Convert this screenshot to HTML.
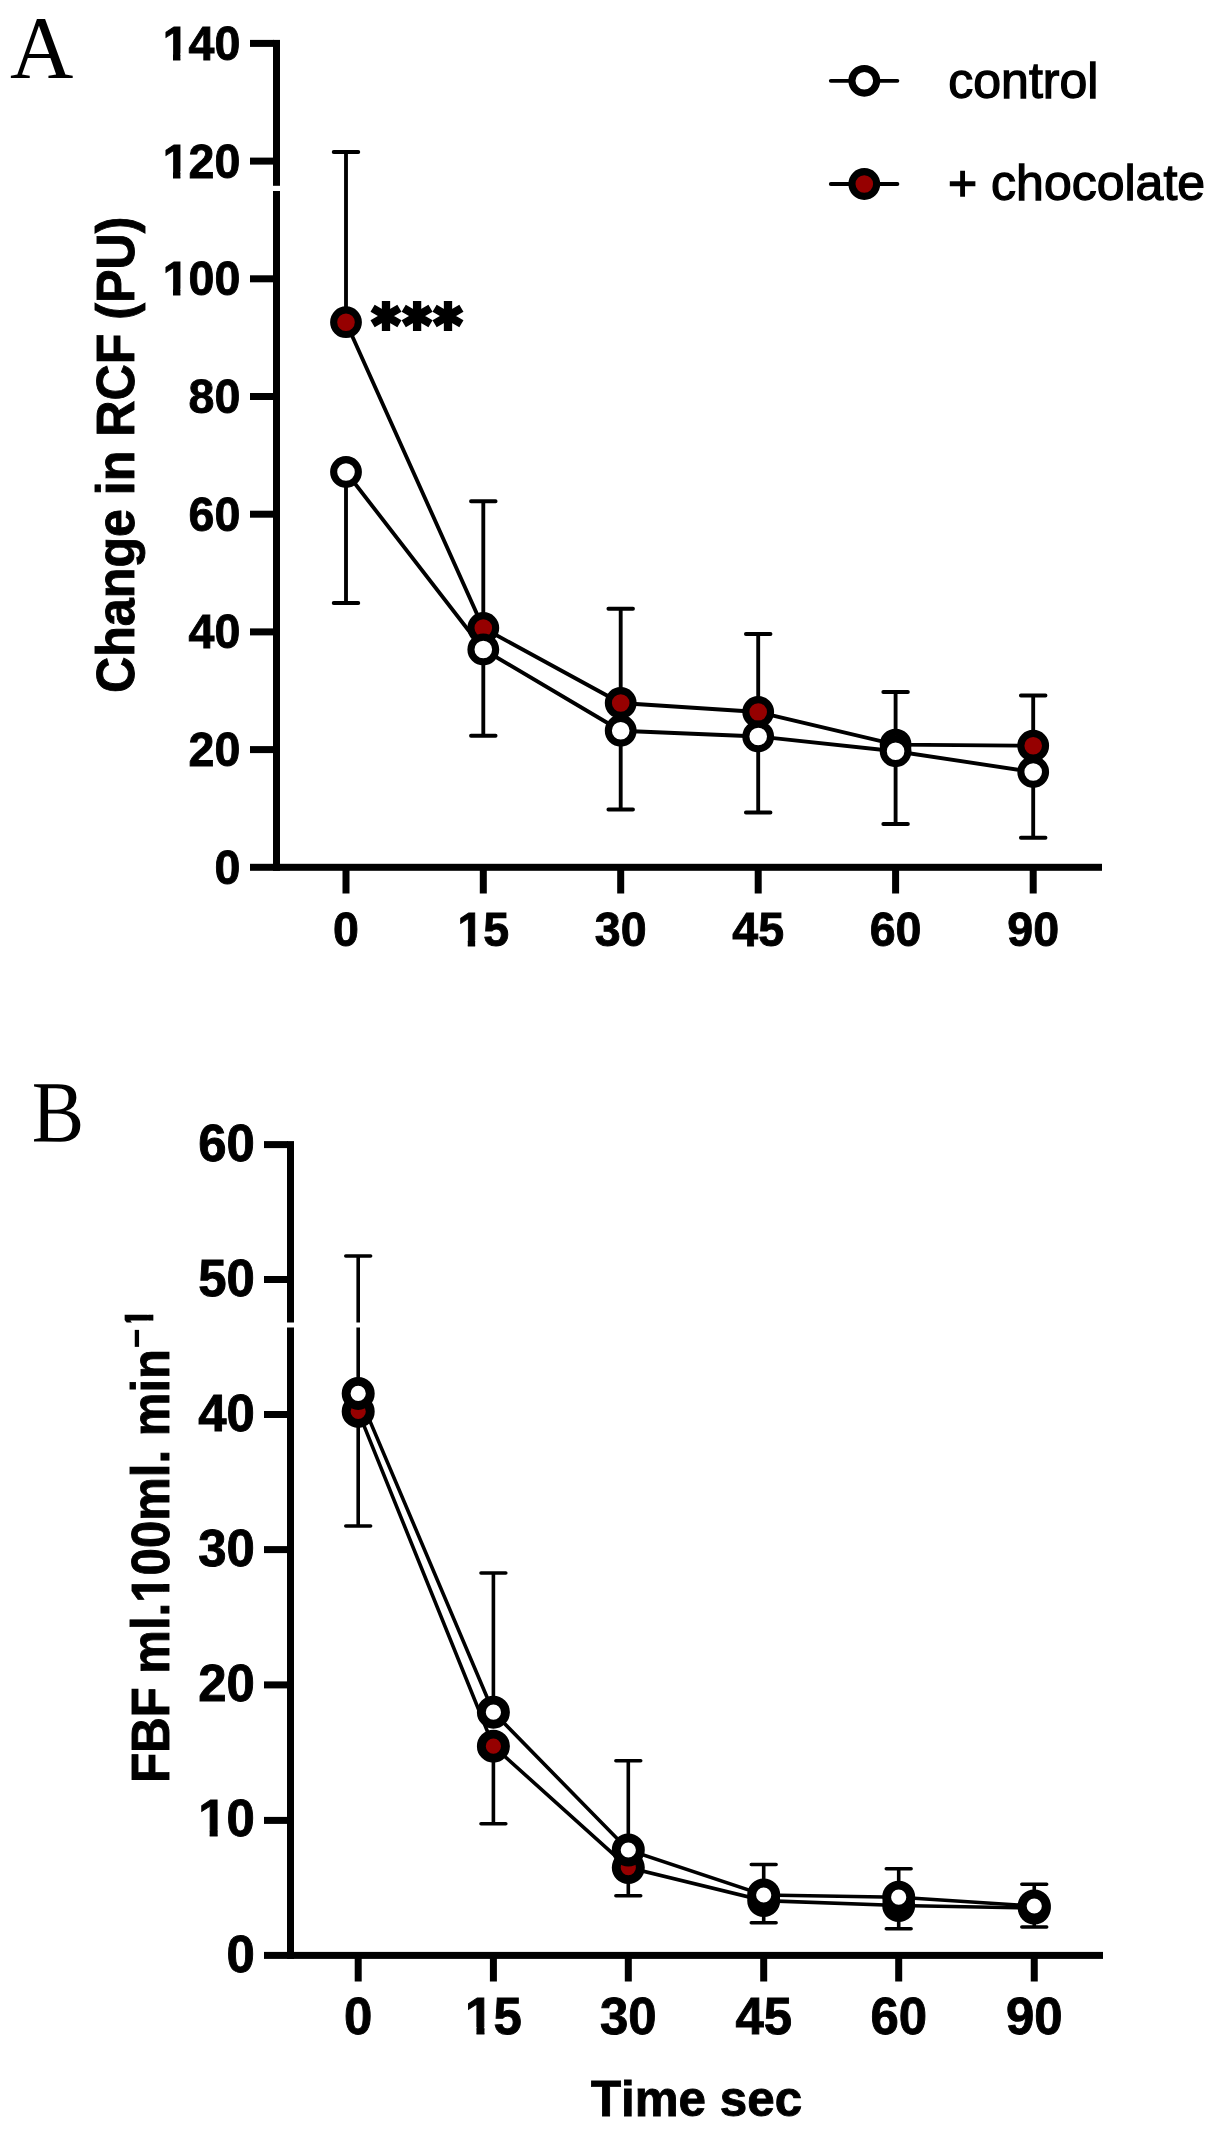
<!DOCTYPE html>
<html lang="en"><head><meta charset="utf-8"><title>Figure: change in RCF and FBF over time</title>
<style>html,body{margin:0;padding:0;background:#fff}body{position:relative;width:1219px;height:2143px}svg{display:block;position:absolute;left:0;top:0;will-change:transform}text{font-family:"Liberation Sans",sans-serif;fill:#000;font-kerning:none}.b{font-weight:bold;stroke:#000;stroke-width:.9px}.s{font-family:"Liberation Serif",serif}</style></head><body>
<svg width="1219" height="2143" viewBox="0 0 1219 2143">
<defs><clipPath id="c1"><path clip-rule="evenodd" d="M-101.59 -58.68H20V24.45H-101.59ZM-81.59 -6.36H-70.69V2.45H-81.59ZM-62.95 -6.36H-53.62V2.45H-62.95Z"/></clipPath><clipPath id="c2"><path clip-rule="evenodd" d="M-101.59 -58.68H20V24.45H-101.59ZM-81.59 -6.36H-70.69V2.45H-81.59ZM-62.95 -6.36H-53.62V2.45H-62.95Z"/></clipPath><clipPath id="c3"><path clip-rule="evenodd" d="M-101.59 -58.68H20V24.45H-101.59ZM-81.59 -6.36H-70.69V2.45H-81.59ZM-62.95 -6.36H-53.62V2.45H-62.95Z"/></clipPath><clipPath id="c4"><path clip-rule="evenodd" d="M-47.2 -58.68H47.2V24.45H-47.2ZM-27.2 -6.36H-16.3V2.45H-27.2ZM-8.56 -6.36H0.77V2.45H-8.56Z"/></clipPath><clipPath id="c5"><path clip-rule="evenodd" d="M-76.62 -61.08H20V25.45H-76.62ZM-56.62 -6.62H-45.23V2.54H-56.62ZM-37.26 -6.62H-27.5V2.54H-37.26Z"/></clipPath><clipPath id="c6"><path clip-rule="evenodd" d="M-48.31 -61.08H48.31V25.45H-48.31ZM-28.31 -6.62H-16.92V2.54H-28.31ZM-8.95 -6.62H0.81V2.54H-8.95Z"/></clipPath><clipPath id="c7"><path clip-rule="evenodd" d="M-20 -63.48H487.4V26.45H-20ZM193.96 -6.88H205.77V2.65H193.96ZM214.09 -6.88H224.22V2.65H214.09Z"/></clipPath><clipPath id="c8"><path clip-rule="evenodd" d="M-20 -48H42.25V20H-20ZM0 -5.2H8.92V2H0ZM15.24 -5.2H22.88V2H15.24Z"/></clipPath></defs>
<rect width="1219" height="2143" fill="#fff"/>
<g fill="#000">
<rect x="273" y="39.9" width="7" height="830.9"/>
<rect x="250" y="863.8" width="852" height="7"/>
<rect x="250" y="746.1" width="24" height="7"/>
<rect x="250" y="628.4" width="24" height="7"/>
<rect x="250" y="510.7" width="24" height="7"/>
<rect x="250" y="393" width="24" height="7"/>
<rect x="250" y="275.3" width="24" height="7"/>
<rect x="250" y="157.6" width="24" height="7"/>
<rect x="250" y="39.9" width="24" height="7"/>
<rect x="342.5" y="870" width="7" height="23.5"/>
<rect x="479.8" y="870" width="7" height="23.5"/>
<rect x="617.2" y="870" width="7" height="23.5"/>
<rect x="754.7" y="870" width="7" height="23.5"/>
<rect x="892.1" y="870" width="7" height="23.5"/>
<rect x="1029.7" y="870" width="7" height="23.5"/>
</g>
<rect x="270" y="185.8" width="14" height="5.2" fill="#fff"/>
<text class="b" font-size="48.9" text-anchor="end" transform="translate(240.3 883.7) scale(0.952 1)">0</text>
<text class="b" font-size="48.9" text-anchor="end" transform="translate(240.3 766) scale(0.952 1)">20</text>
<text class="b" font-size="48.9" text-anchor="end" transform="translate(240.3 648.3) scale(0.952 1)">40</text>
<text class="b" font-size="48.9" text-anchor="end" transform="translate(240.3 530.6) scale(0.952 1)">60</text>
<text class="b" font-size="48.9" text-anchor="end" transform="translate(240.3 412.9) scale(0.952 1)">80</text>
<text class="b" font-size="48.9" text-anchor="end" transform="translate(240.3 295.2) scale(0.952 1)" clip-path="url(#c1)">100</text>
<text class="b" font-size="48.9" text-anchor="end" transform="translate(240.3 177.5) scale(0.952 1)" clip-path="url(#c2)">120</text>
<text class="b" font-size="48.9" text-anchor="end" transform="translate(240.3 59.8) scale(0.952 1)" clip-path="url(#c3)">140</text>
<text class="b" font-size="48.9" text-anchor="middle" transform="translate(346 946.25) scale(0.952 1)">0</text>
<text class="b" font-size="48.9" text-anchor="middle" transform="translate(483.3 946.25) scale(0.952 1)" clip-path="url(#c4)">15</text>
<text class="b" font-size="48.9" text-anchor="middle" transform="translate(620.7 946.25) scale(0.952 1)">30</text>
<text class="b" font-size="48.9" text-anchor="middle" transform="translate(758.2 946.25) scale(0.952 1)">45</text>
<text class="b" font-size="48.9" text-anchor="middle" transform="translate(895.6 946.25) scale(0.952 1)">60</text>
<text class="b" font-size="48.9" text-anchor="middle" transform="translate(1033.2 946.25) scale(0.952 1)">90</text>
<text class="b" font-size="54.4" text-anchor="middle" transform="translate(134.3 454.8) rotate(-90) scale(0.922 1)">Change in RCF (PU)</text>
<text class="s" font-size="88.4" transform="translate(9.9 76.9) scale(.993 1)">A</text>
<g stroke="#000" stroke-width="3.85" fill="none">
<polyline points="346,322.2 483.3,628 620.7,703 758.2,712 895.6,744.6 1033.2,745.75"/>
<polyline points="346,472 483.3,649.5 620.7,730.75 758.2,736.5 895.6,751.25 1033.2,772"/>
<path stroke-linecap="round" d="M346 322.2V152M333.7 152H358.3M346 472V603M333.7 603H358.3"/>
<path stroke-linecap="round" d="M483.3 628V501.25M471 501.25H495.6M483.3 649.5V735.75M471 735.75H495.6"/>
<path stroke-linecap="round" d="M620.7 703V608.75M608.4 608.75H633M620.7 730.75V809.5M608.4 809.5H633"/>
<path stroke-linecap="round" d="M758.2 712V634M745.9 634H770.5M758.2 736.5V812.5M745.9 812.5H770.5"/>
<path stroke-linecap="round" d="M895.6 744.6V692M883.3 692H907.9M895.6 751.25V824M883.3 824H907.9"/>
<path stroke-linecap="round" d="M1033.2 745.75V695.5M1020.9 695.5H1045.5M1033.2 772V837.75M1020.9 837.75H1045.5"/>
</g>
<g stroke="#000" stroke-width="7.1">
<circle cx="346" cy="322.2" r="12.35" fill="#960000"/>
<circle cx="483.3" cy="628" r="12.35" fill="#960000"/>
<circle cx="620.7" cy="703" r="12.35" fill="#960000"/>
<circle cx="758.2" cy="712" r="12.35" fill="#960000"/>
<circle cx="895.6" cy="744.6" r="12.35" fill="#960000"/>
<circle cx="1033.2" cy="745.75" r="12.35" fill="#960000"/>
<circle cx="346" cy="472" r="12.35" fill="#fff"/>
<circle cx="483.3" cy="649.5" r="12.35" fill="#fff"/>
<circle cx="620.7" cy="730.75" r="12.35" fill="#fff"/>
<circle cx="758.2" cy="736.5" r="12.35" fill="#fff"/>
<circle cx="895.6" cy="751.25" r="12.35" fill="#fff"/>
<circle cx="1033.2" cy="772" r="12.35" fill="#fff"/>
</g>
<g stroke="#000" stroke-width="8.3"><title>***</title>
<path d="M386 301V331M372.6 308.25L399.4 323.75M372.6 323.75L399.4 308.25"/>
<path d="M417.1 301V331M403.7 308.25L430.5 323.75M403.7 323.75L430.5 308.25"/>
<path d="M448 301V331M434.6 308.25L461.4 323.75M434.6 323.75L461.4 308.25"/>
</g>
<path stroke="#000" stroke-width="3.85" stroke-linecap="round" d="M830.8 80.8H897.4M830.8 184H897.4"/>
<g stroke="#000" stroke-width="7.1"><circle cx="864.3" cy="80.8" r="12.35" fill="#fff"/><circle cx="864.3" cy="184" r="12.35" fill="#960000"/></g>
<g font-size="50" stroke="#000" stroke-width="1.3"><text x="948.3" y="97.95">control</text><text x="948" y="200.25">+ chocolate</text></g>
<g fill="#000">
<rect x="287" y="1141.1" width="7" height="817.8"/>
<rect x="264" y="1951.9" width="839" height="7"/>
<rect x="264" y="1816.9" width="24" height="7"/>
<rect x="264" y="1681.4" width="24" height="7"/>
<rect x="264" y="1546.1" width="24" height="7"/>
<rect x="264" y="1411" width="24" height="7"/>
<rect x="264" y="1276" width="24" height="7"/>
<rect x="264" y="1141.1" width="24" height="7"/>
<rect x="354.7" y="1958" width="7" height="23.5"/>
<rect x="489.9" y="1958" width="7" height="23.5"/>
<rect x="624.8" y="1958" width="7" height="23.5"/>
<rect x="760.2" y="1958" width="7" height="23.5"/>
<rect x="895.2" y="1958" width="7" height="23.5"/>
<rect x="1030.75" y="1958" width="7" height="23.5"/>
</g>
<text class="b" font-size="50.9" text-anchor="end" transform="translate(254.9 1971.5)">0</text>
<text class="b" font-size="50.9" text-anchor="end" transform="translate(254.9 1836.4)" clip-path="url(#c5)">10</text>
<text class="b" font-size="50.9" text-anchor="end" transform="translate(254.9 1700.9)">20</text>
<text class="b" font-size="50.9" text-anchor="end" transform="translate(254.9 1565.6)">30</text>
<text class="b" font-size="50.9" text-anchor="end" transform="translate(254.9 1430.5)">40</text>
<text class="b" font-size="50.9" text-anchor="end" transform="translate(254.9 1295.5)">50</text>
<text class="b" font-size="50.9" text-anchor="end" transform="translate(254.9 1160.6)">60</text>
<text class="b" font-size="50.9" text-anchor="middle" transform="translate(358.2 2033.7)">0</text>
<text class="b" font-size="50.9" text-anchor="middle" transform="translate(493.4 2033.7)" clip-path="url(#c6)">15</text>
<text class="b" font-size="50.9" text-anchor="middle" transform="translate(628.3 2033.7)">30</text>
<text class="b" font-size="50.9" text-anchor="middle" transform="translate(763.7 2033.7)">45</text>
<text class="b" font-size="50.9" text-anchor="middle" transform="translate(898.7 2033.7)">60</text>
<text class="b" font-size="50.9" text-anchor="middle" transform="translate(1034.25 2033.7)">90</text>
<text class="b" font-size="50.3" text-anchor="middle" transform="translate(696.5 2115.6) scale(0.981 1)">Time sec</text>
<text class="b" font-size="52.9" transform="translate(169.3 1782.8) rotate(-90) scale(0.9287 1)" clip-path="url(#c7)">FBF ml.100ml. min</text>
<text class="b" font-size="39.4" transform="translate(150 1348.4) rotate(-90) scale(0.862 1)" style="stroke-width:0">&#8722;</text>
<text class="b" font-size="40" transform="translate(152.75 1328.8) rotate(-90) scale(0.93 1)" clip-path="url(#c8)" style="stroke-width:.7px">1</text>
<text class="s" font-size="87.4" transform="translate(31.8 1141.6) rotate(.05) scale(.899 1)">B</text>
<g stroke="#000" stroke-width="3.6" fill="none">
<polyline points="358.2,1411.4 493.4,1746.2 628.3,1867.6 763.7,1900.6 898.7,1905.5 1034.25,1908"/>
<polyline points="358.2,1393.4 493.4,1712.2 628.3,1850 763.7,1895 898.7,1897.2 1034.25,1906"/>
<path stroke-linecap="round" d="M358.2 1393.4V1256M345.8 1256H370.6M358.2 1411.4V1526M345.8 1526H370.6"/>
<path stroke-linecap="round" d="M493.4 1712.2V1573M481 1573H505.8M493.4 1746.2V1823.8M481 1823.8H505.8"/>
<path stroke-linecap="round" d="M628.3 1850V1760.75M615.9 1760.75H640.7M628.3 1867.6V1895.75M615.9 1895.75H640.7"/>
<path stroke-linecap="round" d="M763.7 1895V1864.5M751.3 1864.5H776.1M763.7 1900.6V1922.75M751.3 1922.75H776.1"/>
<path stroke-linecap="round" d="M898.7 1897.2V1868.75M886.3 1868.75H911.1M898.7 1905.5V1928.75M886.3 1928.75H911.1"/>
<path stroke-linecap="round" d="M1034.25 1906V1884.25M1021.85 1884.25H1046.65M1034.25 1908V1927M1021.85 1927H1046.65"/>
</g>
<g stroke="#000" stroke-width="8.9">
<circle cx="358.2" cy="1411.4" r="12.05" fill="#960000"/>
<circle cx="493.4" cy="1746.2" r="12.05" fill="#960000"/>
<circle cx="628.3" cy="1867.6" r="12.05" fill="#960000"/>
<circle cx="763.7" cy="1900.6" r="12.05" fill="#960000"/>
<circle cx="898.7" cy="1905.5" r="12.05" fill="#960000"/>
<circle cx="1034.25" cy="1908" r="12.05" fill="#960000"/>
<circle cx="358.2" cy="1393.4" r="12.05" fill="#fff"/>
<circle cx="493.4" cy="1712.2" r="12.05" fill="#fff"/>
<circle cx="628.3" cy="1850" r="12.05" fill="#fff"/>
<circle cx="763.7" cy="1895" r="12.05" fill="#fff"/>
<circle cx="898.7" cy="1897.2" r="12.05" fill="#fff"/>
<circle cx="1034.25" cy="1906" r="12.05" fill="#fff"/>
</g>
<rect x="100" y="1322.5" width="290" height="5" fill="#fff"/>
</svg></body></html>
